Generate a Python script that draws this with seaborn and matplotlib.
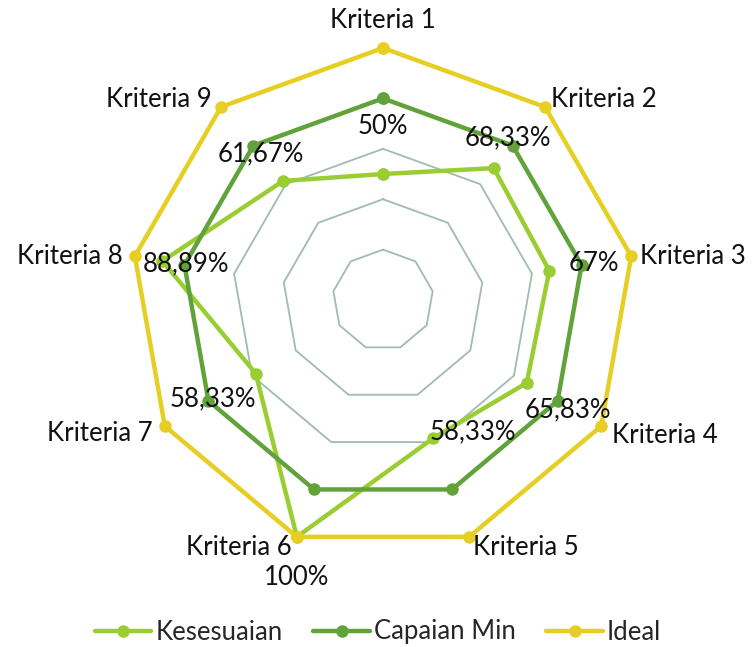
import numpy as np
import pandas as pd
import matplotlib
matplotlib.use("Agg")
import matplotlib.pyplot as plt
import seaborn as sns

kriteria = ["Kriteria 1", "Kriteria 2", "Kriteria 3", "Kriteria 4", "Kriteria 5",
            "Kriteria 6", "Kriteria 7", "Kriteria 8", "Kriteria 9"]
kesesuaian = [50, 68.33, 67, 65.83, 58.33, 100, 58.33, 88.89, 61.67]
capaian_min = [80, 80, 80, 80, 80, 80, 80, 80, 80]
ideal = [100, 100, 100, 100, 100, 100, 100, 100, 100]
label_teks = ["50%", "68,33%", "67%", "65,83%", "58,33%", "100%", "58,33%", "88,89%", "61,67%"]
grid_levels = [20, 40, 60, 80, 100]

sns.set_style("white")
plt.rcParams["font.family"] = ["Lato", "DejaVu Sans"]

fig = plt.figure(figsize=(7.56, 6.47), dpi=100)
ax = fig.add_axes([0.1733, 0.1468, 0.6667, 0.779], projection="polar")
ax.set_theta_offset(np.pi / 2)
ax.set_theta_direction(-1)

n = len(kriteria)
theta = np.linspace(0, 2 * np.pi, n, endpoint=False)
# tutup poligon dengan 2*pi (bukan 0) supaya seaborn tidak menggabungkan x yang sama
theta_closed = np.append(theta, 2 * np.pi)

# polygon grid
for lvl in grid_levels:
    ax.plot(theta_closed, [lvl] * (n + 1), color="#9fbcae", lw=1.3, zorder=1)

series = [("Kesesuaian", kesesuaian, "#9acd32"),
          ("Capaian Min", capaian_min, "#62a23a"),
          ("Ideal", ideal, "#e6ce23")]

for i, (nama, vals, warna) in enumerate(series):
    df = pd.DataFrame({"theta": theta_closed, "nilai": vals + [vals[0]]})
    sns.lineplot(data=df, x="theta", y="nilai", sort=False, ax=ax, color=warna,
                 lw=3.2, marker="o", markersize=9, markeredgewidth=0,
                 label=nama, zorder=2 + i, clip_on=False)

ax.set_ylim(0, 100)
ax.set_xticks([])
ax.set_yticks([])
ax.grid(False)
ax.spines["polar"].set_visible(False)
ax.set_xlabel("")
ax.set_ylabel("")
ax.get_legend().remove()

fs = 18.5

# nama kriteria
kat_offset = [(0, 28), (6, 7), (9, 0), (11, -9), (4, -11),
              (-5, -11), (-12, -7), (-12, 0), (-9, 7)]
kat_ha = ["center", "left", "left", "left", "left", "right", "right", "right", "right"]
for t, nama, off, ha in zip(theta, kriteria, kat_offset, kat_ha):
    ax.annotate(nama, (t, 100), xytext=off, textcoords="offset pixels",
                ha=ha, va="center", fontsize=fs, color="#111111", zorder=10)

# label data
lbl_offset = [(0, 48), (14, 30), (45, 7), (41, -27), (40, 6),
              (0, -41), (-43, -25), (24, -3), (-22, 27)]
for t, v, teks, off in zip(theta, kesesuaian, label_teks, lbl_offset):
    ax.annotate(teks, (t, v), xytext=off, textcoords="offset pixels",
                ha="center", va="center", fontsize=fs, color="#111111", zorder=10)

handles, labels = ax.get_legend_handles_labels()
fig.legend(handles, labels, loc="center", bbox_to_anchor=(0.5, 1 - 632 / 647),
           ncol=3, frameon=False, fontsize=fs, handlelength=2.2,
           handletextpad=0.15, columnspacing=1.2)

fig.savefig("out.png", dpi=100)
